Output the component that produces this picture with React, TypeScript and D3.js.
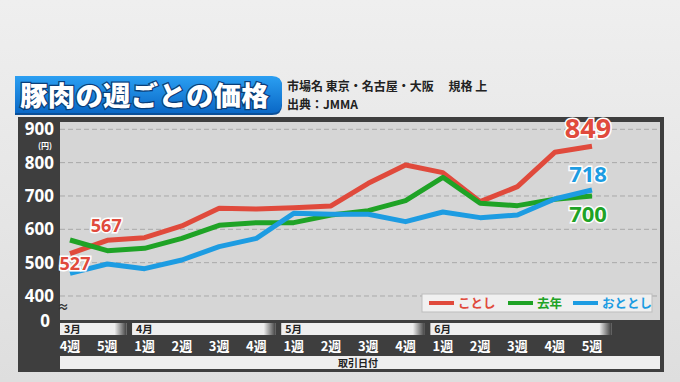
import React from "react";
import * as d3 from "d3";

const weeks = ["4週", "5週", "1週", "2週", "3週", "4週", "1週", "2週", "3週", "4週", "1週", "2週", "3週", "4週", "5週"];
const months = [
  { label: "3月", start: 0, end: 1 },
  { label: "4月", start: 2, end: 5 },
  { label: "5月", start: 6, end: 9 },
  { label: "6月", start: 10, end: 14 },
];
const kotoshi = [527, 567, 575, 610, 663, 661, 665, 670, 738, 793, 770, 683, 728, 831, 849];
const kyonen = [568, 536, 543, 573, 612, 620, 620, 643, 656, 686, 756, 678, 671, 690, 700];
const ototoshi = [468, 496, 482, 508, 548, 573, 648, 645, 645, 623, 652, 635, 643, 691, 718];
const yTicks = [400, 500, 600, 700, 800, 900];

const series = [
  { name: "ことし", values: kotoshi, color: "#e04a3c" },
  { name: "去年", values: kyonen, color: "#1fa326" },
  { name: "おととし", values: ototoshi, color: "#1d9ce2" },
];

const FONT = "'Noto Sans CJK JP', 'Noto Sans', sans-serif";
const NUMFONT = "'Open Sans', 'Noto Sans', sans-serif";

export default function App() {
  const W = 680, H = 382;
  const plotL = 60, plotR = 660, plotT = 122, plotB = 320;
  const x = d3.scaleLinear().domain([0, weeks.length - 1]).range([70, 592]);
  const y = d3.scaleLinear().domain([400, 900]).range([296, 129.3]);
  const line = d3.line<number>().x((_, i) => x(i)).y((d) => y(d)).curve(d3.curveLinear);

  const last = weeks.length - 1;

  return (
    <svg width={W} height={H} style={{ position: "fixed", left: 0, top: 0 }} fontFamily={FONT}>
      <defs>
        <linearGradient id="bg" x1="0" y1="0" x2="0" y2="1">
          <stop offset="0" stopColor="#efefef" />
          <stop offset="1" stopColor="#dedede" />
        </linearGradient>
        <linearGradient id="titleG" x1="0" y1="0" x2="0" y2="1">
          <stop offset="0" stopColor="#2b9ff2" />
          <stop offset="1" stopColor="#0a68c6" />
        </linearGradient>
        <linearGradient id="fade" x1="0" y1="0" x2="1" y2="0">
          <stop offset="0" stopColor="#3e3e3e" stopOpacity="0" />
          <stop offset="1" stopColor="#3e3e3e" stopOpacity="1" />
        </linearGradient>
      </defs>
      <rect x={0} y={0} width={W} height={H} fill="url(#bg)" />

      {/* Title */}
      <path d="M15,76 H272 Q282,76 282,86 V104 Q282,114 272,114 H15 Z" fill="#0a4f98" transform="translate(0,1)" />
      <path d="M15,76 H272 Q282,76 282,86 V103 Q282,113 272,113 H15 Z" fill="url(#titleG)" />
      <text x={20} y={106} fontSize={27.5} fontWeight={900} fill="#fff" stroke="#0b3e78" strokeWidth={2.5}
        style={{ paintOrder: "stroke" }} letterSpacing={0.2}>豚肉の週ごとの価格</text>
      <text x={287} y={91} fontSize={12} fontWeight={700} fill="#222">市場名 東京・名古屋・大阪　 規格 上</text>
      <text x={287} y={109} fontSize={12} fontWeight={700} fill="#222">出典：JMMA</text>

      {/* Dark panel */}
      <rect x={18} y={117} width={646} height={255} fill="#3e3e3e" />
      <rect x={plotL} y={plotT} width={plotR - plotL} height={plotB - plotT} fill="#d6d6d6" />

      {/* grid */}
      {yTicks.map((t) => (
        <line key={t} x1={plotL} x2={plotR} y1={y(t)} y2={y(t)} stroke="#a9a9a9" strokeWidth={1} strokeDasharray="5,3" />
      ))}

      {/* y labels */}
      {yTicks.map((t) => (
        <text key={t} x={54} y={y(t) + 6} textAnchor="end" fontFamily={NUMFONT} fontSize={17} fontWeight={700} fill="#fff">{t}</text>
      ))}
      <text x={52} y={149} textAnchor="end" fontSize={8} fontWeight={700} fill="#fff">(円)</text>
      <text x={50} y={327} textAnchor="end" fontFamily={NUMFONT} fontSize={17} fontWeight={700} fill="#fff">0</text>
      <text x={63} y={312} textAnchor="middle" fontSize={12} fontWeight={700} fill="#333">≈</text>

      {/* lines */}
      {series.map((s) => (
        <path key={s.name} d={line(s.values) || ""} fill="none" stroke={s.color} strokeWidth={5} strokeLinejoin="round" />
      ))}

      {/* value labels */}
      <g fontFamily={NUMFONT} fontWeight={700} textAnchor="middle" stroke="#fff" strokeWidth={3} style={{ paintOrder: "stroke" }}>
        <text x={x(1) - 1} y={y(kotoshi[1]) - 8} fontSize={18} fill={series[0].color}>{kotoshi[1]}</text>
        <text x={x(0) + 5} y={y(kotoshi[0]) + 16} fontSize={18} fill={series[0].color}>{kotoshi[0]}</text>
        <text x={x(last) - 4} y={y(kotoshi[last]) - 8} fontSize={27} fill={series[0].color}>{kotoshi[last]}</text>
        <text x={x(last) - 4} y={y(ototoshi[last]) - 8} fontSize={22} fill={series[2].color}>{ototoshi[last]}</text>
        <text x={x(last) - 4} y={y(kyonen[last]) + 26} fontSize={22} fill={series[1].color}>{kyonen[last]}</text>
      </g>

      {/* legend */}
      <rect x={422} y={294} width={230} height={18} fill="#f0f0f0" stroke="#bdbdbd" strokeWidth={1} />
      {series.map((s, i) => {
        const lx = [429, 508, 573][i];
        return (
          <g key={s.name}>
            <line x1={lx} x2={lx + 25} y1={303} y2={303} stroke={s.color} strokeWidth={4} />
            <text x={lx + 29} y={308} fontSize={12.5} fontWeight={700} fill={s.color}>{s.name}</text>
          </g>
        );
      })}

      {/* month bars */}
      {months.map((m) => {
        const x0 = Math.max(plotL, x(m.start) - 12.5);
        const x1 = x(m.end + 1) - 18;
        return (
          <g key={m.label + m.start}>
            <rect x={x0} y={323} width={x1 - x0} height={12} fill="#eeeeee" />
            <rect x={x1 - 12} y={323} width={12} height={12} fill="url(#fade)" />
            <text x={x0 + 4} y={333} fontSize={10.5} fontWeight={700} fill="#222">{m.label}</text>
          </g>
        );
      })}

      {/* week labels */}
      {weeks.map((w, i) => (
        <text key={i} x={x(i)} y={351} textAnchor="middle" fontSize={13} fontWeight={700} fill="#fff">{w}</text>
      ))}

      {/* bottom bar */}
      <rect x={plotL} y={356} width={plotR - plotL} height={13} fill="#eeeeee" />
      <text x={(plotL + plotR) / 2 - 2} y={366.5} textAnchor="middle" fontSize={10} fontWeight={700} fill="#222">取引日付</text>
    </svg>
  );
}
